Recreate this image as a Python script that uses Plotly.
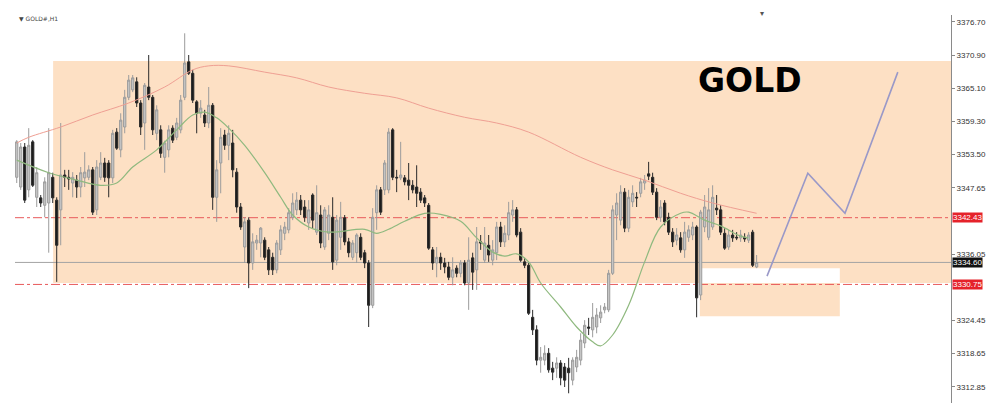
import plotly.graph_objects as go

# ---------------- data ----------------
opens = [3349.5,3347.8,3354.8,3347.3,3355.7,3346.0,3345.9,3344.6,3345.0,3349.5,
 3345.5,3343.8,3349.9,3349.5,3348.5,3349.0,3347.8,3349.4,3349.5,3350.8,
 3343.8,3349.5,3352.0,3352.0,3349.4,3357.4,3354.3,3358.3,3363.5,3364.8,
 3366.2,3362.5,3359.0,3365.3,3363.5,3357.2,3357.8,3353.0,3354.3,3358.1,
 3356.5,3357.8,3363.5,3369.7,3367.7,3362.7,3360.7,3360.4,3359.0,3362.1,
 3346.0,3352.0,3356.9,3355.1,3355.5,3350.4,3344.3,3337.3,3342.0,3334.5,
 3338.0,3338.0,3338.5,3336.8,3335.5,3333.3,3336.8,3339.7,3340.3,3342.5,
 3343.8,3345.5,3344.3,3341.5,3346.4,3339.9,3342.9,3337.3,3339.7,3342.5,
 3335.0,3339.0,3342.4,3338.2,3335.5,3336.3,3339.0,3336.3,3334.5,3327.1,
 3343.3,3347.3,3347.3,3347.3,3357.8,3349.5,3349.4,3349.4,3349.0,3348.1,
 3347.8,3346.9,3345.9,3344.6,3336.8,3334.5,3335.5,3334.5,3333.8,3332.0,
 3333.6,3332.7,3334.5,3331.0,3335.4,3333.3,3338.2,3335.0,3337.6,3335.0,
 3336.3,3340.8,3338.2,3339.4,3342.9,3343.8,3339.9,3334.7,3334.1,3325.0,
 3322.8,3317.5,3317.5,3318.7,3316.1,3316.1,3317.0,3316.3,3316.1,3314.0,
 3316.3,3317.5,3320.5,3323.3,3322.8,3323.3,3324.9,3326.3,3326.3,3332.7,
 3342.9,3342.0,3346.9,3340.6,3345.2,3346.0,3346.7,3348.5,3350.1,3349.5,
 3346.9,3342.5,3345.0,3342.5,3339.9,3338.5,3338.9,3336.8,3339.0,3339.4,
 3340.8,3328.9,3340.8,3339.0,3340.8,3344.1,3343.8,3339.7,3337.3,3339.4,
 3339.0,3338.9,3339.0,3338.5,3339.9,3333.8]
highs = [3356.0,3355.5,3355.5,3358.1,3356.0,3351.3,3346.4,3349.5,3358.1,3350.3,
 3346.0,3359.0,3350.8,3350.8,3350.4,3349.9,3351.3,3353.9,3351.6,3351.3,
 3352.5,3353.9,3352.9,3352.5,3357.8,3358.1,3360.7,3364.8,3367.4,3367.4,
 3367.0,3363.0,3366.0,3370.9,3363.9,3362.1,3358.6,3355.9,3358.6,3358.6,
 3359.9,3363.9,3374.7,3370.9,3368.3,3363.0,3363.0,3361.3,3365.3,3362.5,
 3352.5,3358.1,3357.8,3358.6,3357.8,3351.1,3345.0,3342.5,3342.5,3339.7,
 3339.4,3340.8,3339.0,3337.3,3336.3,3338.5,3341.1,3341.7,3344.1,3346.7,
 3346.9,3346.4,3345.5,3345.5,3346.7,3348.1,3344.6,3344.3,3344.6,3346.0,
 3342.9,3345.2,3342.9,3338.9,3338.5,3339.7,3339.7,3336.8,3335.0,3344.1,
 3348.1,3347.8,3352.5,3358.1,3358.1,3350.8,3355.7,3349.9,3352.0,3349.0,
 3351.6,3347.6,3346.4,3345.0,3337.3,3337.3,3336.3,3335.4,3334.7,3335.5,
 3334.1,3335.0,3335.0,3339.0,3336.3,3340.8,3339.4,3340.8,3339.4,3338.5,
 3341.7,3341.7,3341.1,3345.2,3345.5,3344.3,3340.6,3335.4,3334.5,3326.3,
 3323.6,3319.8,3320.1,3319.6,3317.2,3318.0,3317.5,3317.0,3317.9,3318.0,
 3319.3,3322.2,3324.5,3324.9,3327.5,3326.6,3327.1,3327.5,3333.3,3344.6,
 3346.7,3348.1,3347.6,3347.3,3348.1,3346.9,3349.4,3349.9,3352.2,3350.3,
 3347.6,3345.5,3345.5,3343.3,3340.6,3340.6,3339.9,3341.7,3341.1,3341.7,
 3341.1,3343.8,3346.4,3347.6,3348.1,3346.4,3344.6,3340.6,3340.3,3340.3,
 3339.9,3340.3,3339.7,3339.9,3340.3,3335.9]
lows = [3348.5,3347.3,3345.0,3346.0,3347.8,3344.3,3344.3,3342.5,3336.3,3345.0,
 3331.2,3337.6,3347.8,3347.3,3346.0,3345.9,3346.0,3347.8,3349.0,3342.9,
 3342.9,3349.0,3348.7,3346.0,3348.5,3354.3,3353.0,3357.2,3363.0,3364.4,
 3361.8,3356.9,3354.3,3363.0,3356.9,3356.0,3352.9,3350.3,3353.0,3355.5,
 3356.0,3357.2,3363.0,3367.4,3362.5,3357.2,3359.9,3358.3,3358.1,3343.8,
 3341.7,3346.7,3354.3,3352.5,3349.5,3343.3,3340.3,3334.5,3330.1,3333.3,
 3336.8,3335.5,3335.0,3332.4,3332.4,3332.7,3335.9,3338.5,3339.7,3342.0,
 3342.9,3342.9,3341.7,3340.3,3340.6,3339.4,3337.1,3336.8,3338.5,3333.3,
 3334.1,3336.8,3337.6,3335.5,3335.0,3334.5,3335.0,3333.6,3323.3,3326.6,
 3340.3,3342.9,3346.4,3346.7,3349.0,3346.9,3349.0,3348.1,3345.5,3346.7,
 3344.3,3345.0,3344.3,3336.8,3333.3,3332.0,3333.3,3332.7,3331.5,3330.6,
 3332.0,3332.0,3330.6,3326.3,3329.8,3329.8,3336.8,3334.5,3334.7,3334.1,
 3335.0,3337.3,3337.3,3338.5,3341.7,3339.0,3334.7,3333.6,3325.4,3321.9,
 3316.6,3315.3,3316.6,3315.3,3314.0,3314.4,3313.1,3312.8,3311.7,3313.1,
 3315.4,3316.6,3319.6,3321.9,3321.5,3322.2,3324.0,3325.7,3325.9,3332.4,
 3338.5,3341.1,3339.9,3339.9,3344.3,3344.3,3346.0,3347.3,3349.0,3346.4,
 3342.0,3341.7,3341.1,3339.4,3337.3,3337.6,3336.3,3335.4,3338.2,3338.5,
 3325.0,3328.0,3339.9,3338.5,3340.3,3342.9,3339.4,3336.8,3336.8,3338.2,
 3338.5,3338.2,3338.2,3338.0,3333.8,3333.6]
closes = [3355.7,3354.8,3345.5,3355.1,3348.1,3350.3,3345.0,3348.7,3350.3,3345.9,
 3337.6,3349.9,3349.5,3349.2,3349.5,3347.8,3350.3,3350.4,3350.8,3343.4,
 3351.3,3352.0,3349.5,3349.4,3357.2,3354.6,3359.5,3363.5,3366.5,3366.9,
 3362.5,3358.3,3365.6,3363.5,3357.8,3361.3,3353.7,3355.5,3357.8,3356.0,
 3359.0,3363.0,3369.5,3367.7,3363.0,3360.7,3361.6,3359.0,3362.1,3346.0,
 3350.8,3356.5,3355.1,3357.2,3350.8,3344.3,3340.8,3341.7,3334.5,3338.2,
 3338.5,3340.6,3335.5,3333.3,3333.3,3338.0,3340.3,3340.8,3343.3,3345.0,
 3345.5,3343.8,3342.5,3343.8,3342.0,3343.3,3338.0,3343.8,3342.9,3334.7,
 3342.0,3342.5,3338.2,3336.3,3338.0,3339.4,3335.5,3334.5,3327.1,3342.5,
 3347.3,3343.4,3352.0,3357.4,3349.5,3349.4,3349.9,3348.7,3348.1,3347.3,
 3346.7,3345.5,3345.0,3337.1,3334.5,3335.5,3334.5,3333.8,3332.0,3333.3,
 3332.7,3334.5,3331.0,3335.0,3332.9,3338.2,3338.0,3338.0,3335.9,3336.8,
 3340.8,3338.2,3339.7,3343.3,3343.8,3339.4,3335.0,3334.1,3325.7,3322.8,
 3317.5,3318.0,3318.7,3315.8,3315.4,3317.0,3314.4,3314.0,3315.3,3317.5,
 3318.0,3321.0,3323.6,3323.1,3325.0,3325.4,3325.9,3326.8,3332.7,3343.8,
 3345.0,3346.9,3340.6,3346.0,3346.7,3345.9,3348.7,3349.0,3349.7,3346.9,
 3342.5,3344.3,3341.7,3339.9,3338.2,3339.4,3336.8,3339.9,3340.3,3340.8,
 3328.4,3343.4,3344.3,3343.8,3346.0,3343.8,3339.9,3337.1,3339.4,3338.9,
 3338.9,3339.4,3338.7,3339.4,3334.1,3334.6]

# moving averages (bar index, price) read at sample points
ma_slow_x = [0, 3, 11, 19, 28, 37, 44, 48, 53, 62, 70, 78, 87, 95, 103, 112, 120, 128,
             141, 149, 157, 166, 174, 185]
ma_slow_y = [3355.5, 3356.5, 3358.3, 3360.4, 3362.5, 3365.3, 3368.3, 3369.0, 3369.0,
             3367.9, 3366.9, 3365.3, 3364.2, 3363.4, 3361.6, 3360.0, 3359.0, 3357.4,
             3353.0, 3350.8, 3349.0, 3346.7, 3345.0, 3343.2]
ma_fast_x = [0, 8, 15, 21, 25, 29, 35, 40, 44, 47, 50, 53, 57, 62, 66, 69, 73, 78, 87,
             90, 93, 97, 102, 106, 111, 115, 119, 122, 125, 128, 131, 136, 140, 144,
             146, 149, 153, 157, 161, 166, 168, 172, 176, 181, 183]
ma_fast_y = [3352.5, 3350.3, 3349.0, 3348.1, 3348.5, 3351.3, 3354.3, 3357.8, 3360.4,
             3360.9, 3359.9, 3358.1, 3355.1, 3350.3, 3346.0, 3342.9, 3340.8, 3339.9,
             3340.4, 3339.7, 3340.4, 3341.8, 3343.2, 3343.0, 3341.8, 3338.9, 3336.4,
             3335.7, 3336.1, 3334.7, 3331.0, 3326.8, 3323.3, 3320.7, 3320.0, 3321.9,
             3327.1, 3334.7, 3340.8, 3343.2, 3343.4, 3342.0, 3341.0, 3339.2, 3338.9]

# projected path (bar index, price)
proj_x = [187.6, 197.8, 207.1, 220.3]
proj_y = [3332.2, 3350.2, 3343.2, 3367.9]

# levels
level_hi = 3342.43
level_lo = 3330.75
last_price = 3334.60
zone_top, zone_bottom, zone_start = 3369.85, 3331.0, 9.1
box_x0, box_x1, box_top, box_bottom = 170.8, 205.8, 3333.6, 3325.2

tick_vals = [3376.70, 3370.90, 3365.10, 3359.30, 3353.50, 3347.65, 3336.05,
             3324.45, 3318.65, 3312.85]
tick_text = ["3376.70", "3370.90", "3365.10", "3359.30", "3353.50", "3347.65",
             "3336.05", "3324.45", "3318.65", "3312.85"]

idx = list(range(len(opens)))
X0, X1 = -0.43, 233.6
ORANGE = "#fde0c4"

fig = go.Figure()
fig.add_trace(go.Candlestick(
    x=idx, open=opens, high=highs, low=lows, close=closes,
    increasing=dict(fillcolor="#c6c6c6", line=dict(color="#9c9c9c", width=1)),
    decreasing=dict(fillcolor="#1c1c1c", line=dict(color="#2a2a2a", width=1)),
    whiskerwidth=0, showlegend=False, hoverinfo="skip"))
fig.add_trace(go.Scatter(x=ma_slow_x, y=ma_slow_y, mode="lines",
                         line=dict(color="#ef9f93", width=1, shape="spline"),
                         showlegend=False, hoverinfo="skip"))
fig.add_trace(go.Scatter(x=ma_fast_x, y=ma_fast_y, mode="lines",
                         line=dict(color="#8fb97f", width=1.2, shape="spline"),
                         showlegend=False, hoverinfo="skip"))
fig.add_trace(go.Scatter(x=proj_x, y=proj_y, mode="lines",
                         line=dict(color="#9a99c8", width=1.6),
                         showlegend=False, hoverinfo="skip"))

shapes = [
    dict(type="rect", xref="x", yref="y", x0=zone_start, x1=X1,
         y0=zone_bottom, y1=zone_top, fillcolor=ORANGE, line=dict(width=0), layer="below"),
    dict(type="rect", xref="x", yref="y", x0=box_x0, x1=box_x1,
         y0=zone_bottom, y1=box_top, fillcolor="white", line=dict(width=0), layer="below"),
    dict(type="rect", xref="x", yref="y", x0=box_x0, x1=box_x1,
         y0=box_bottom, y1=zone_bottom, fillcolor=ORANGE, line=dict(width=0), layer="below"),
    dict(type="line", xref="x", yref="y", x0=X0, x1=X1, y0=level_hi, y1=level_hi,
         line=dict(color="#e8595a", width=1, dash="dashdot"), layer="below"),
    dict(type="line", xref="x", yref="y", x0=X0, x1=X1, y0=level_lo, y1=level_lo,
         line=dict(color="#e8595a", width=1, dash="dashdot"), layer="below"),
    dict(type="line", xref="x", yref="y", x0=X0, x1=X1, y0=last_price, y1=last_price,
         line=dict(color="#a4a4a4", width=1), layer="below"),
]

annotations = [
    dict(text="<b>GOLD</b>", xref="paper", yref="paper", x=0.785, y=0.830,
         xanchor="center", yanchor="middle", showarrow=False,
         font=dict(family="DejaVu Sans", size=33, color="#000000")),
    dict(text="▼ GOLD#,H1", xref="paper", yref="paper", x=0.002, y=0.992,
         xanchor="left", yanchor="middle", showarrow=False,
         font=dict(family="DejaVu Sans", size=6, color="#444444")),
    dict(text="▾", xref="paper", yref="paper", x=0.798, y=1.003, showarrow=False,
         xanchor="center", yanchor="middle",
         font=dict(family="DejaVu Sans", size=8, color="#555555")),
]
for val, bg in [(level_hi, "#e5222a"), (last_price, "#111111"), (level_lo, "#e5222a")]:
    annotations.append(dict(text=f"{val:.2f}", xref="paper", yref="y", x=1, y=val,
                            xanchor="left", yanchor="middle", xshift=1, showarrow=False,
                            bgcolor=bg, borderpad=0,
                            font=dict(family="Liberation Sans", size=8, color="white")))

# the page body adds an 8px margin, so the figure is sized/offset to compensate
fig.update_layout(
    width=984, height=396,
    margin=dict(l=7, r=41, t=7, b=1),
    paper_bgcolor="white", plot_bgcolor="white",
    shapes=shapes, annotations=annotations, boxgap=0.2,
    xaxis=dict(range=[X0, X1], visible=False, rangeslider=dict(visible=False),
               showgrid=False, zeroline=False),
    yaxis=dict(range=[3310.0, 3377.9], side="right", showgrid=False, zeroline=False,
               showline=True, linecolor="#8a8a8a", linewidth=1,
               ticks="outside", ticklen=3, tickcolor="#8a8a8a",
               tickvals=tick_vals, ticktext=tick_text,
               tickfont=dict(family="Liberation Sans", size=8, color="#333333")),
)

fig.write_html("out.html")
